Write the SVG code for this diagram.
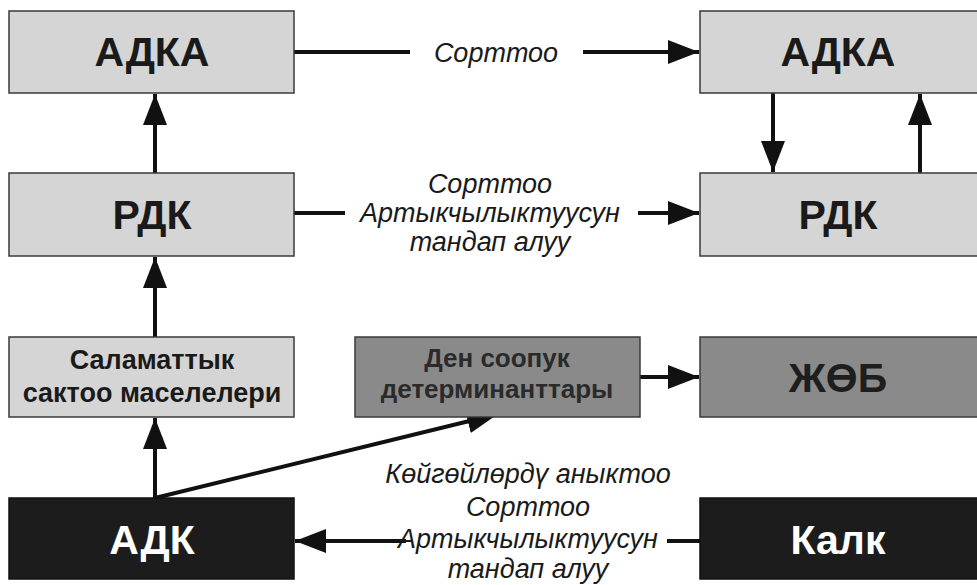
<svg xmlns="http://www.w3.org/2000/svg" width="977" height="585" viewBox="0 0 977 585">
<defs>
<style>
.light{fill:#d5d5d5;stroke:#3a3a3a;stroke-width:1.5}
.mid{fill:#8a8a8a;stroke:#3a3a3a;stroke-width:1.5}
.dark{fill:#1c1c1c;stroke:#111;stroke-width:1.5}
.big{font-family:"Liberation Sans",Arial,sans-serif;font-weight:bold;font-size:41px;text-anchor:middle}
.med{font-family:"Liberation Sans",Arial,sans-serif;font-weight:bold;font-size:27px;text-anchor:middle}
.lbl{font-family:"Liberation Sans",Arial,sans-serif;font-style:italic;font-size:27px;text-anchor:middle;fill:#1a1a1a}
.conn{stroke:#111;stroke-width:4;fill:none}
</style>
<marker id="ah" markerUnits="userSpaceOnUse" markerWidth="32" markerHeight="24" refX="31" refY="12" orient="auto">
<path d="M0,0 L31,12 L0,24 Z" fill="#111"/>
</marker>
</defs>
<rect width="977" height="585" fill="#ffffff"/>

<g id="connectors">
<line class="conn" x1="294" y1="52" x2="410" y2="52"/>
<line class="conn" x1="583" y1="52" x2="699" y2="52" marker-end="url(#ah)"/>
<line class="conn" x1="294" y1="213" x2="345" y2="213"/>
<line class="conn" x1="638" y1="213" x2="699" y2="213" marker-end="url(#ah)"/>
<line class="conn" x1="155" y1="173" x2="155" y2="94" marker-end="url(#ah)"/>
<line class="conn" x1="155" y1="337" x2="155" y2="257" marker-end="url(#ah)"/>
<line class="conn" x1="155" y1="498" x2="155" y2="418" marker-end="url(#ah)"/>
<line class="conn" x1="155" y1="498" x2="498" y2="414" marker-end="url(#ah)"/>
<line class="conn" x1="773" y1="93" x2="773" y2="172" marker-end="url(#ah)"/>
<line class="conn" x1="920" y1="173" x2="920" y2="94" marker-end="url(#ah)"/>
<line class="conn" x1="640" y1="377" x2="699" y2="377" marker-end="url(#ah)"/>
<line class="conn" x1="700" y1="541" x2="667" y2="541"/>
<line class="conn" x1="406" y1="541" x2="295" y2="541" marker-end="url(#ah)"/>
<text class="lbl" x="496" y="62">Сорттоо</text>
<text class="lbl" x="490" y="193">Сорттоо</text>
<text class="lbl" x="490" y="222">Артыкчылыктуусун</text>
<text class="lbl" x="490" y="251">тандап алуу</text>
<text class="lbl" x="528" y="483">Көйгөйлөрдү аныктоо</text>
<text class="lbl" x="528" y="516">Сорттоо</text>
<text class="lbl" x="528" y="548">Артыкчылыктуусун</text>
<text class="lbl" x="528" y="578">тандап алуу</text>
</g>

<g id="adka-left">
<rect class="light" x="9" y="11" width="285" height="82"/>
<text class="big" x="152" y="66" fill="#1a1a1a">АДКА</text>
</g>
<g id="adka-right">
<rect class="light" x="700" y="11" width="290" height="82"/>
<text class="big" x="838" y="66" fill="#1a1a1a">АДКА</text>
</g>
<g id="rdk-left">
<rect class="light" x="9" y="173" width="285" height="83"/>
<text class="big" x="152" y="229" fill="#1a1a1a">РДК</text>
</g>
<g id="rdk-right">
<rect class="light" x="700" y="173" width="290" height="83"/>
<text class="big" x="838" y="229" fill="#1a1a1a">РДК</text>
</g>
<g id="salamattyk">
<rect class="light" x="9" y="337" width="285" height="80"/>
<text class="med" x="152" y="369" fill="#1a1a1a">Саламаттык</text>
<text class="med" x="152" y="402" fill="#1a1a1a">сактоо маселелери</text>
</g>
<g id="den-soopuk">
<rect class="mid" x="355" y="337" width="285" height="80"/>
<text class="med" x="497" y="367" fill="#2a2a2a" style="font-size:26px">Ден соопук</text>
<text class="med" x="497" y="398" fill="#2a2a2a" style="font-size:26px">детерминанттары</text>
</g>
<g id="zhob">
<rect class="mid" x="700" y="337" width="290" height="80"/>
<text class="big" x="838" y="392" fill="#1e1e1e">ЖӨБ</text>
</g>
<g id="adk">
<rect class="dark" x="9" y="498" width="285" height="81"/>
<text class="big" x="152" y="554" fill="#ffffff">АДК</text>
</g>
<g id="kalk">
<rect class="dark" x="700" y="498" width="290" height="81"/>
<text class="big" x="838" y="554" fill="#ffffff">Калк</text>
</g>
</svg>
